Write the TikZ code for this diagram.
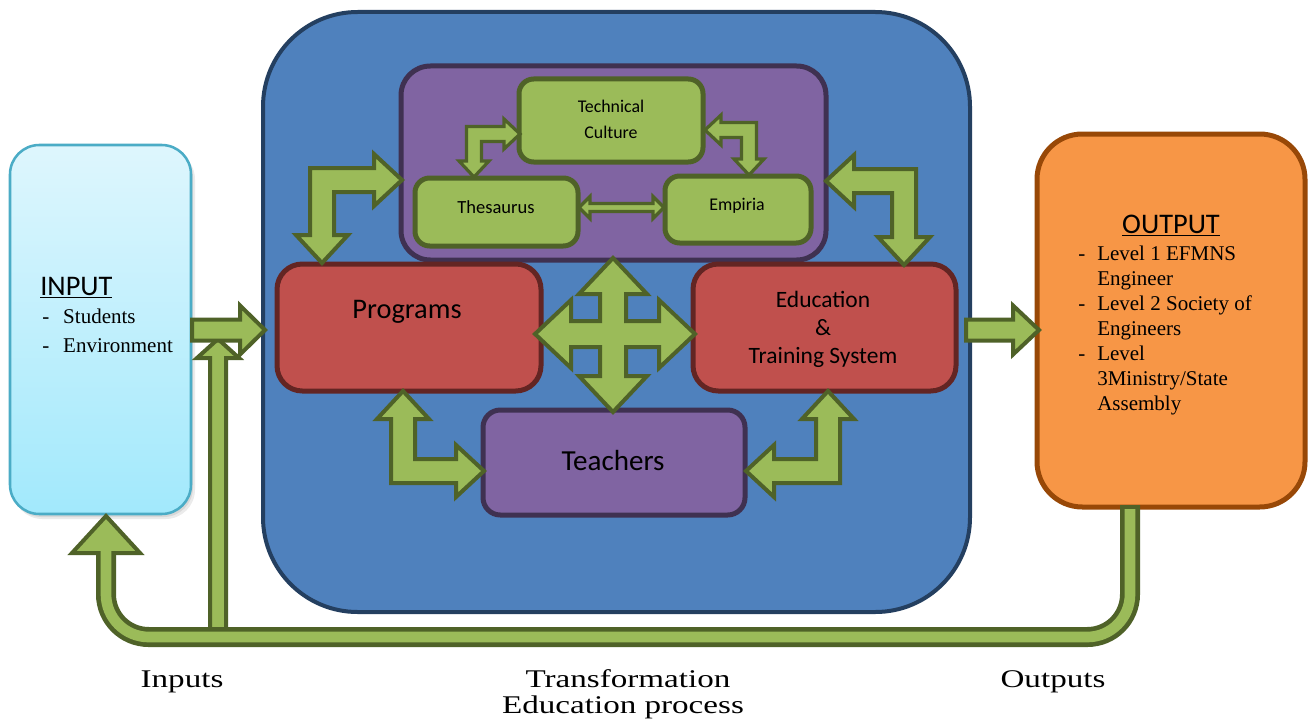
\documentclass[tikz,border=0pt]{standalone}
\usepackage{fontspec}
\setmainfont{Liberation Serif}
\newfontfamily\calfont{Carlito}
\newfontfamily\capfont[FakeStretch=1.3]{Liberation Serif}

\definecolor{blueF}{HTML}{4F81BD}
\definecolor{blueD}{HTML}{243F60}
\definecolor{purpF}{HTML}{8064A2}
\definecolor{purpD}{HTML}{3F3151}
\definecolor{grnF}{HTML}{9BBB59}
\definecolor{grnD}{HTML}{4F6228}
\definecolor{redF}{HTML}{C0504D}
\definecolor{redD}{HTML}{632523}
\definecolor{orgF}{HTML}{F79646}
\definecolor{orgD}{HTML}{984807}
\definecolor{cyanT}{HTML}{DEF6FD}
\definecolor{cyanB}{HTML}{A2E9FC}
\definecolor{cyanD}{HTML}{4BACC6}

% box node from its corner coordinates (x1,y1)-(x2,y2), in pixel units
\newcommand\rbox[6]{%
  \node[#6,minimum width={(#4-#2)*0.75pt},minimum height={(#5-#3)*0.75pt},inner sep=0pt]
    (#1) at ({(#2+#4)/2},{(#3+#5)/2}) {};}

% L-shaped double block arrow:
% corner (cx,cy), horizontal tip at x=hx, vertical tip at y=vy,
% shaft half-width w, head half-width h, head length L
\newcommand\blockelbow[8][]{%
  \pgfmathsetmacro\elbsx{ifthenelse(#4>#2,1,-1)}%
  \pgfmathsetmacro\elbsy{ifthenelse(#5>#3,1,-1)}%
  \draw[blockarrow,#1] (#2,#5)
    -- ({#2-(\elbsx)*#7},{#5-(\elbsy)*#8})
    -- ({#2-(\elbsx)*#6},{#5-(\elbsy)*#8})
    -- ({#2-(\elbsx)*#6},{#3-(\elbsy)*#6})
    -- ({#4-(\elbsx)*#8},{#3-(\elbsy)*#6})
    -- ({#4-(\elbsx)*#8},{#3-(\elbsy)*#7})
    -- (#4,#3)
    -- ({#4-(\elbsx)*#8},{#3+(\elbsy)*#7})
    -- ({#4-(\elbsx)*#8},{#3+(\elbsy)*#6})
    -- ({#2+(\elbsx)*#6},{#3+(\elbsy)*#6})
    -- ({#2+(\elbsx)*#6},{#5-(\elbsy)*#8})
    -- ({#2+(\elbsx)*#7},{#5-(\elbsy)*#8})
    -- cycle;}

\begin{document}
\begin{tikzpicture}[x=0.75pt,y=-0.75pt,
  blockarrow/.style={fill=grnF,draw=grnD,line width=3pt,line join=miter},
  thinarrow/.style={blockarrow,line width=2.4pt},
  greenbox/.style={rectangle,rounded corners=11pt,fill=grnF,draw=grnD,line width=3.75pt},
  redbox/.style={rectangle,rounded corners=19pt,fill=redF,draw=redD,line width=3.75pt},
  purplebox/.style={rectangle,fill=purpF,draw=purpD,line width=3.75pt},
  smalltxt/.style={font=\calfont\fontsize{13.4pt}{18.75pt}\selectfont,anchor=base,inner sep=0pt},
  bigtxt/.style={font=\calfont\fontsize{21.3pt}{25pt}\selectfont,anchor=base,inner sep=0pt},
  midtxt/.style={font=\calfont\fontsize{17.6pt}{21pt}\selectfont,anchor=base,inner sep=0pt},
  listtxt/.style={font=\fontsize{15.75pt}{18.75pt}\selectfont,anchor=base west,inner sep=0pt},
  captxt/.style={font=\capfont\fontsize{19.1pt}{22pt}\selectfont,anchor=base,inner sep=0pt},
  pipeout/.style={draw=grnD,line width=15pt},
  pipein/.style={draw=grnF,line width=8pt}]

\useasboundingbox (0,0) rectangle (1309,724);
\fill[white] (0,0) rectangle (1309,724);

% ---------- transformation block ----------
\rbox{frame}{263}{12}{970}{612}{rectangle,rounded corners=71pt,fill=blueF,draw=blueD,line width=3pt}
\rbox{core}{401}{66}{826}{260}{purplebox,rounded corners=22pt}
\rbox{tech}{519}{79}{703}{162}{greenbox}
\rbox{thes}{415}{178}{578}{246}{greenbox}
\rbox{emp}{665}{176}{811}{243}{greenbox}
\rbox{prog}{277}{264}{541}{391}{redbox}
\rbox{edu}{693}{264}{956}{391}{redbox}
\rbox{teach}{483}{410}{745}{515}{purplebox,rounded corners=13pt}

% links inside the knowledge core
\blockelbow[thinarrow]{474}{134}{520}{177}{7.5}{15}{16}
\blockelbow[thinarrow]{749}{130}{705}{175}{7.5}{15}{16}
\draw[thinarrow] (579,207.5) -- (590,196.5) -- (590,203.5) -- (653,203.5)
  -- (653,196.5) -- (664,207.5) -- (653,218.5) -- (653,211.5) -- (590,211.5)
  -- (590,218.5) -- cycle;

% links between core, programs, education system and teachers
\blockelbow{322}{180}{402}{263}{12}{26}{28}
\blockelbow{904}{181}{826}{265}{12}{26}{28}
\blockelbow{403}{471}{484}{391}{12}{26}{28}
\blockelbow{828}{471}{746}{391}{12}{26}{28}

% four-way arrow in the middle
\draw[blockarrow] (535,334) -- (571,300) -- (571,321) -- (600,321) -- (600,294)
  -- (579,294) -- (613,258) -- (647,294) -- (626,294) -- (626,321) -- (659,321)
  -- (659,300) -- (695,334) -- (659,368) -- (659,347) -- (626,347) -- (626,376)
  -- (647,376) -- (613,412) -- (579,376) -- (600,376) -- (600,347) -- (571,347)
  -- (571,368) -- cycle;

% ---------- input ----------
\fill[black,opacity=0.08,rounded corners=22pt] (13,150) rectangle (195,519);
\fill[black,opacity=0.08,rounded corners=22pt] (12,148) rectangle (193,517);
\rbox{input}{10}{145}{191}{514}{rectangle,rounded corners=22pt,top color=cyanT,bottom color=cyanB,draw=cyanD,line width=1.9pt}

% ---------- output ----------
\rbox{output}{1037}{134}{1305}{507}{rectangle,rounded corners=34pt,fill=orgF,draw=orgD,line width=3.75pt}

% ---------- feedback loop ----------
\draw[blockarrow] (210,632) -- (210,358) -- (197,358) -- (218,339) -- (239,358)
  -- (226,358) -- (226,632) -- cycle;
\draw[pipeout,rounded corners=32pt] (1130,505) -- (1130,637) -- (106,637) -- (106,553);
\draw[blockarrow] (72,553) -- (106,516) -- (140,553) -- cycle;
\draw[pipein,rounded corners=32pt] (1130,509) -- (1130,637) -- (106,637) -- (106,549);

% input and output flow arrows
\draw[blockarrow] (192,319.5) -- (240,319.5) -- (240,305.5) -- (265,330) -- (240,354.5)
  -- (240,340.5) -- (192,340.5) -- cycle;
\draw[blockarrow] (966,319.5) -- (1013,319.5) -- (1013,305.5) -- (1039,330) -- (1013,354.5)
  -- (1013,340.5) -- (966,340.5) -- cycle;

% ---------- texts ----------
\node[smalltxt] (ttech1) at (611,113) {Technical};
\node[smalltxt] (ttech2) at (611,138) {Culture};
\node[smalltxt,font=\calfont\fontsize{13.9pt}{18pt}\selectfont] (tthes) at (496,213) {Thesaurus};
\node[smalltxt] (temp) at (737,210) {Empiria};
\node[bigtxt] (tprog) at (407,318) {Programs};
\node[midtxt] (tedu1) at (823,307) {Education};
\node[midtxt] (tedu2) at (823,335) {\&};
\node[midtxt] (tedu3) at (823,363) {Training System};
\node[bigtxt,font=\calfont\fontsize{21.8pt}{25pt}\selectfont] (tteach) at (613,470) {Teachers};

\node[bigtxt,anchor=base west] (tin) at (40,295) {\underline{INPUT}};
\node[listtxt] (tin1) at (42,323) {\makebox[15.75pt][l]{-}Students};
\node[listtxt] (tin2) at (42,352) {\makebox[15.75pt][l]{-}Environment};

\node[bigtxt] (tout) at (1171,233) {\underline{OUTPUT}};
\node[listtxt] (tout1) at (1078,260) {\makebox[14.25pt][l]{-}Level 1 EFMNS};
\node[listtxt] (tout2) at (1097,285) {Engineer};
\node[listtxt] (tout3) at (1078,310) {\makebox[14.25pt][l]{-}Level 2 Society of};
\node[listtxt] (tout4) at (1097,335) {Engineers};
\node[listtxt] (tout5) at (1078,360) {\makebox[14.25pt][l]{-}Level};
\node[listtxt] (tout6) at (1097,385) {3Ministry/State};
\node[listtxt] (tout7) at (1097,410) {Assembly};

\node[captxt] (cin) at (182,687) {Inputs};
\node[captxt] (ctr) at (628,687) {Transformation};
\node[captxt] (ced) at (623,713) {Education process};
\node[captxt] (cout) at (1053,687) {Outputs};
\end{tikzpicture}
\end{document}
